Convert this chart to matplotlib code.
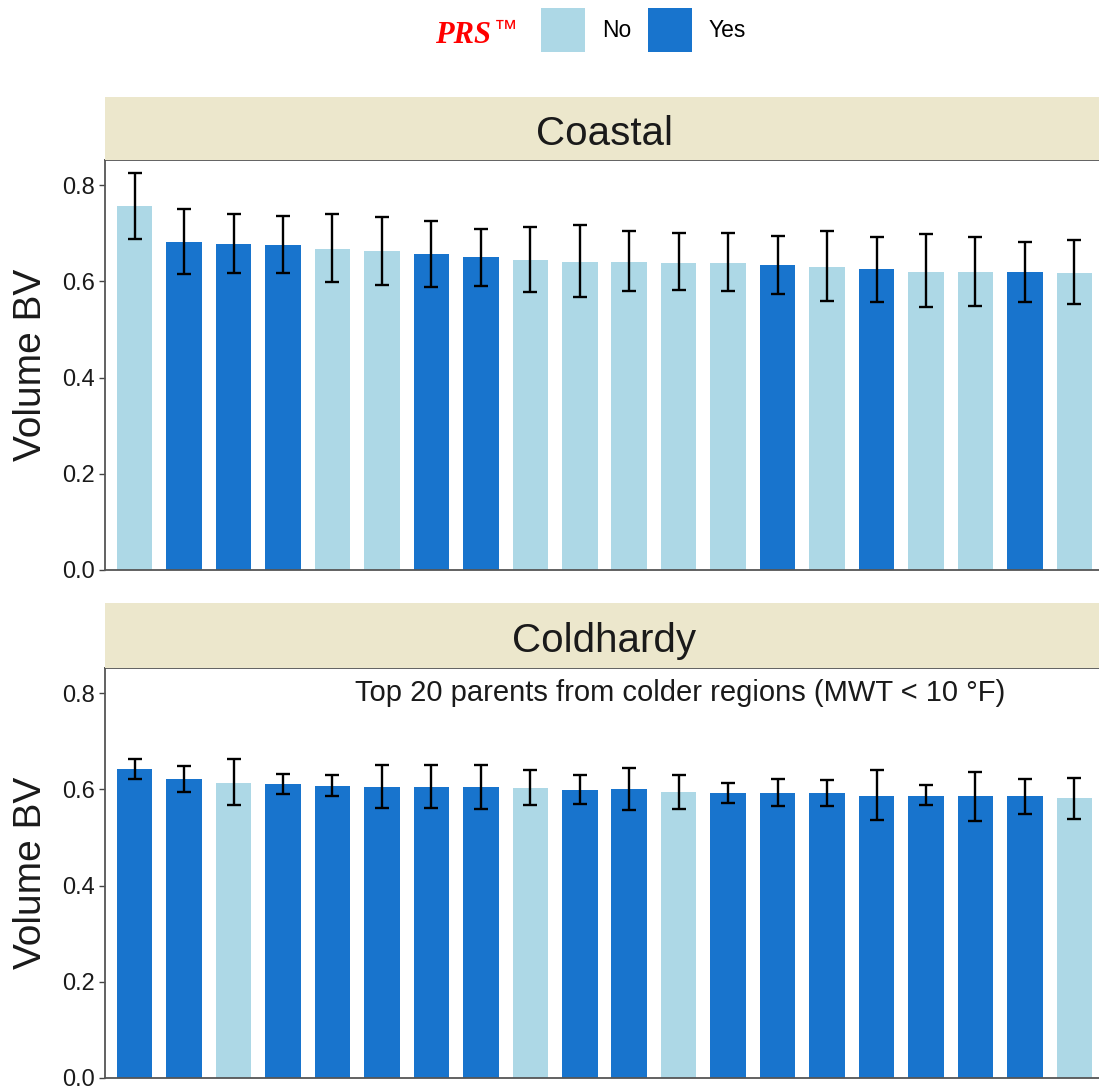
import numpy as np
import matplotlib.pyplot as plt
from matplotlib.patches import Patch

plt.rcParams["font.family"] = ["Liberation Sans", "DejaVu Sans"]

# Coastal panel: mean BV and error bar limits, PRS status
coastal_mean = [0.756, 0.682, 0.677, 0.675, 0.668, 0.662, 0.656, 0.650, 0.645, 0.641,
                0.641, 0.639, 0.637, 0.634, 0.630, 0.625, 0.619, 0.619, 0.619, 0.617]
coastal_high = [0.826, 0.750, 0.739, 0.735, 0.740, 0.734, 0.726, 0.708, 0.713, 0.716,
                0.704, 0.700, 0.700, 0.694, 0.705, 0.692, 0.698, 0.692, 0.682, 0.686]
coastal_low = [0.687, 0.615, 0.617, 0.617, 0.599, 0.593, 0.589, 0.591, 0.578, 0.568,
               0.579, 0.582, 0.579, 0.573, 0.559, 0.557, 0.546, 0.548, 0.557, 0.553]
coastal_prs = ["No", "Yes", "Yes", "Yes", "No", "No", "Yes", "Yes", "No", "No",
               "No", "No", "No", "Yes", "No", "Yes", "No", "No", "Yes", "No"]

# Coldhardy panel
cold_mean = [0.642, 0.621, 0.614, 0.610, 0.607, 0.605, 0.605, 0.605, 0.603, 0.599,
             0.600, 0.594, 0.593, 0.593, 0.592, 0.587, 0.587, 0.585, 0.585, 0.581]
cold_high = [0.663, 0.649, 0.662, 0.631, 0.630, 0.650, 0.650, 0.651, 0.640, 0.629,
             0.644, 0.630, 0.614, 0.621, 0.620, 0.640, 0.608, 0.636, 0.622, 0.624]
cold_low = [0.621, 0.595, 0.568, 0.590, 0.585, 0.562, 0.562, 0.558, 0.567, 0.570,
            0.557, 0.559, 0.571, 0.565, 0.565, 0.537, 0.567, 0.535, 0.549, 0.538]
cold_prs = ["Yes", "Yes", "No", "Yes", "Yes", "Yes", "Yes", "Yes", "No", "Yes",
            "Yes", "No", "Yes", "Yes", "Yes", "Yes", "Yes", "Yes", "Yes", "No"]

y_ticks = [0.0, 0.2, 0.4, 0.6, 0.8]
colors = {"No": "#ADD8E6", "Yes": "#1874CD"}
strip_color = "#ECE7CC"

W, H = 1099, 1091
fig = plt.figure(figsize=(W / 100, H / 100), dpi=100)


def fx(px):
    return px / W


def fy(py):
    return 1 - py / H


def draw_panel(top, bottom, strip_top, title, means, lows, highs, prs):
    left, right = 105, 1104
    ax = fig.add_axes([fx(left), fy(bottom), fx(right - left), (bottom - top) / H])
    x = np.arange(1, len(means) + 1)
    means = np.array(means)
    yerr = [means - np.array(lows), np.array(highs) - means]
    ax.bar(x, means, width=0.72, color=[colors[p] for p in prs], zorder=2)
    ax.errorbar(x, means, yerr=yerr, fmt="none", ecolor="black",
                elinewidth=1.7, capsize=5, capthick=1.7, zorder=3)
    ax.set_xlim(0.4, len(means) + 0.6)
    ax.set_ylim(0, 0.852)
    ax.set_yticks(y_ticks)
    ax.set_yticklabels([f"{t:.1f}" for t in y_ticks])
    ax.set_xticks([])
    ax.tick_params(axis="y", labelsize=17, length=4.5, width=1.0,
                   color="#444444", labelcolor="#1a1a1a", pad=3)
    for side in ["left", "top", "bottom"]:
        ax.spines[side].set_color("#555555")
        ax.spines[side].set_linewidth(1.3)
    ax.spines["right"].set_visible(False)

    # facet strip
    sax = fig.add_axes([fx(left), fy(top), fx(right - left), (top - strip_top) / H])
    sax.set_facecolor(strip_color)
    sax.set_xticks([])
    sax.set_yticks([])
    for s in sax.spines.values():
        s.set_visible(False)
    sax.text(0.5, 0.24, title, transform=sax.transAxes, ha="center",
             va="baseline", fontsize=29, color="#1a1a1a")

    fig.text(fx(31), fy((top + bottom) / 2), "Volume BV", rotation=90,
             ha="center", va="center", fontsize=28, color="#1a1a1a")
    return ax


ax1 = draw_panel(160, 570, 97, "Coastal", coastal_mean, coastal_low,
                 coastal_high, coastal_prs)
ax2 = draw_panel(668, 1078, 603, "Coldhardy", cold_mean, cold_low,
                 cold_high, cold_prs)
ax2.text(0.576, 0.94, "Top 20 parents from colder regions (MWT < 10 \u00b0F)",
         transform=ax2.transAxes, ha="center", va="center", fontsize=21,
         color="#1a1a1a")

# legend at the top
fig.text(fx(435), fy(43), "PRS", color="red", fontsize=22, fontweight="bold",
         fontstyle="italic", family="Liberation Serif", ha="left", va="baseline")
fig.text(fx(494), fy(19), "\u2122", color="red", fontsize=17, ha="left", va="top")
handles = [Patch(facecolor=colors["No"], label="No"),
           Patch(facecolor=colors["Yes"], label="Yes")]
fig.legend(handles=handles, loc="center left", bbox_to_anchor=(fx(541), fy(30)),
           ncol=2, frameon=False, fontsize=16.5, handlelength=1.9, handleheight=2.6,
           handletextpad=0.75, columnspacing=0.75, borderpad=0, borderaxespad=0)

plt.savefig("out.png", dpi=100)
plt.close()
